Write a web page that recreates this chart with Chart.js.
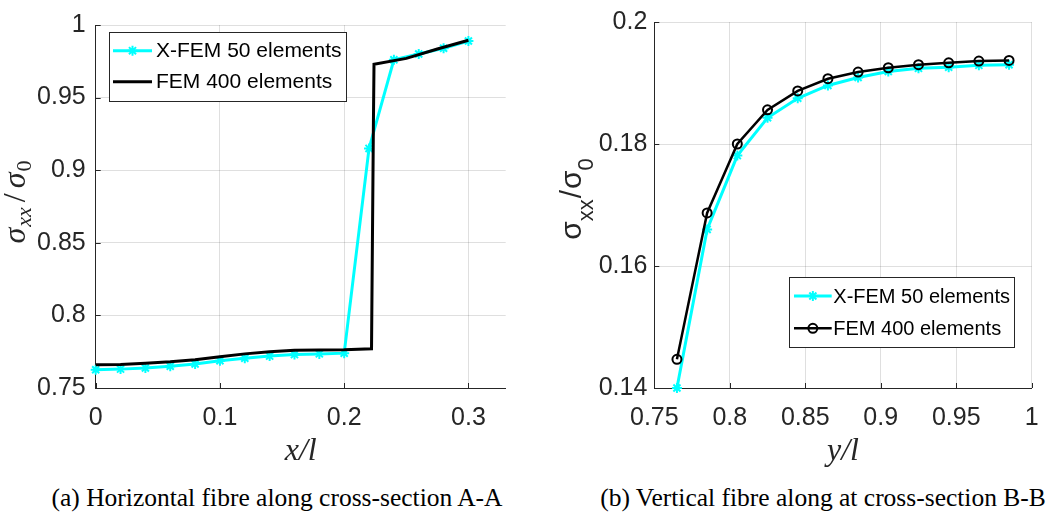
<!DOCTYPE html>
<html><head><meta charset="utf-8">
<script src="https://cdn.jsdelivr.net/npm/chart.js@4.4.0/dist/chart.umd.min.js"></script>
<style>
html,body{margin:0;padding:0;background:#fff;width:1062px;height:516px;overflow:hidden;}
canvas{position:absolute;top:0;}
#ca{left:0;}
#cb{left:531px;}
.cap{position:absolute;top:484px;line-height:28px;font-family:'Liberation Serif','Times New Roman',serif;font-size:25.5px;color:#000;white-space:nowrap;transform:translateX(-50%);}
</style></head><body>
<canvas id="ca" width="531" height="480"></canvas>
<canvas id="cb" width="531" height="480"></canvas>
<div class="cap" style="left:277px">(a) Horizontal fibre along cross-section A-A</div>
<div class="cap" style="left:823px">(b) Vertical fibre along at cross-section B-B</div>
<script>
// ---------- DATA ----------
// (a) horizontal fibre, cross-section A-A
const xfemA_x = [0, 0.02, 0.04, 0.06, 0.08, 0.10, 0.12, 0.14, 0.16, 0.18, 0.20, 0.22, 0.24, 0.26, 0.28, 0.30];
const xfemA_y = [0.7626, 0.7630, 0.7638, 0.7650, 0.7665, 0.7688, 0.7705, 0.7720, 0.7730, 0.7735, 0.7740, 0.9150, 0.9760, 0.9800, 0.9840, 0.9890];
const femA_x = [0, 0.02, 0.04, 0.06, 0.08, 0.10, 0.12, 0.14, 0.16, 0.18, 0.20, 0.222, 0.2235, 0.224, 0.25, 0.275, 0.30];
const femA_y = [0.7660, 0.7662, 0.7670, 0.7680, 0.7695, 0.7715, 0.7735, 0.7750, 0.7760, 0.7762, 0.7763, 0.7770, 0.9300, 0.9730, 0.9770, 0.9835, 0.9895];
const xTicksA = [0, 0.1, 0.2, 0.3];
const yTicksA = [0.75, 0.8, 0.85, 0.9, 0.95, 1];
// (b) vertical fibre, cross-section B-B
const posB  = [0.765, 0.785, 0.805, 0.825, 0.845, 0.865, 0.885, 0.905, 0.925, 0.945, 0.965, 0.985];
const xfemB = [0.1400, 0.1660, 0.1781, 0.1843, 0.1875, 0.1896, 0.1909, 0.1919, 0.1924, 0.1926, 0.1929, 0.1930];
const femB  = [0.1447, 0.1687, 0.1800, 0.1856, 0.1887, 0.1907, 0.1918, 0.1925, 0.1930, 0.1933, 0.1936, 0.1937];
const xTicksB = [0.75, 0.8, 0.85, 0.9, 0.95, 1];
const yTicksB = [0.14, 0.16, 0.18, 0.2];
const labelXfem = 'X-FEM 50 elements';
const labelFem = 'FEM 400 elements';

// ---------- STYLE ----------
const CYAN = '#00FFFF', BLACK = '#000000', AX = '#262626';
const GRID = 'rgba(38,38,38,0.15)';
const H = 480;

function pts(xs, ys){ return xs.map((x,i)=>({x:x, y:ys[i]})); }
function fmt(v){ return String(+(+v).toFixed(3)); }

const custom = {
  id: 'custom',
  afterDraw(chart, args, o) {
    const ctx = chart.ctx, ca = chart.chartArea;
    const xs = chart.scales.x, ys = chart.scales.y;
    ctx.save();
    // inner tick marks
    ctx.strokeStyle = AX; ctx.lineWidth = 1;
    xs.ticks.forEach(t => {
      const p = Math.round(xs.getPixelForValue(t.value)) + 0.5;
      ctx.beginPath(); ctx.moveTo(p, ca.bottom); ctx.lineTo(p, ca.bottom - 5); ctx.stroke();
    });
    ys.ticks.forEach(t => {
      const p = Math.round(ys.getPixelForValue(t.value)) + 0.5;
      ctx.beginPath(); ctx.moveTo(ca.left, p); ctx.lineTo(ca.left + 5, p); ctx.stroke();
    });
    // legend
    const L = o.legend;
    ctx.fillStyle = '#fff';
    ctx.fillRect(L.x, L.y, L.w, L.h);
    ctx.strokeStyle = AX; ctx.lineWidth = 1;
    ctx.strokeRect(Math.round(L.x) + 0.5, Math.round(L.y) + 0.5, Math.round(L.w), Math.round(L.h));
    L.items.forEach((it, i) => {
      const ds = chart.data.datasets[it.ds];
      const y = L.rows[i];
      ctx.strokeStyle = ds.borderColor; ctx.lineWidth = ds.borderWidth;
      ctx.beginPath(); ctx.moveTo(L.s0, y); ctx.lineTo(L.s1, y); ctx.stroke();
      if (ds.pointRadius > 0) {
        ctx.strokeStyle = ds.pointBorderColor; ctx.fillStyle = ds.pointBackgroundColor;
        ctx.lineWidth = ds.pointBorderWidth;
        Chart.helpers.drawPoint(ctx, {pointStyle: ds.pointStyle, radius: ds.pointRadius, borderWidth: ds.pointBorderWidth, rotation: 0}, (L.s0 + L.s1) / 2, y);
      }
      ctx.fillStyle = '#000';
      ctx.font = L.font;
      ctx.textBaseline = 'middle'; ctx.textAlign = 'left';
      ctx.fillText(ds.label, L.tx, y + 1);
    });
    // y title with subscripts
    const T = o.ytitle;
    let total = 0;
    T.parts.forEach(p => { ctx.font = p.f; total += ctx.measureText(p.t).width + (p.g || 0); });
    ctx.translate(T.bx, T.cy);
    ctx.rotate(-Math.PI / 2);
    ctx.fillStyle = '#262626';
    ctx.textBaseline = 'alphabetic'; ctx.textAlign = 'left';
    let x = -total / 2;
    T.parts.forEach(p => {
      ctx.font = p.f;
      ctx.fillText(p.t, x, p.dy || 0);
      x += ctx.measureText(p.t).width + (p.g || 0);
    });
    ctx.restore();
  }
};

function makeChart(id, cfg) {
  return new Chart(document.getElementById(id), {
    type: 'line',
    data: { datasets: cfg.datasets },
    options: {
      responsive: false,
      animation: false,
      layout: { padding: { top: 16, right: cfg.padRight, left: 0, bottom: 0 } },
      plugins: { legend: { display: false }, tooltip: { enabled: false }, custom: cfg.custom },
      scales: {
        x: {
          type: 'linear', min: cfg.xmin, max: cfg.xmax,
          afterBuildTicks: s => { s.ticks = cfg.xTicks.map(v => ({ value: v })); },
          afterFit: s => { s.height = H - 388; },
          ticks: { callback: fmt, color: AX, font: { family: 'Liberation Sans', size: 25 }, padding: 15, maxRotation: 0, autoSkip: false },
          grid: { color: GRID, drawTicks: false, lineWidth: 1 },
          border: { display: true, color: AX, width: 1 },
          title: { display: true, text: cfg.xTitle, color: '#262626', font: { family: 'Liberation Serif', size: 32, style: 'italic' }, padding: { top: 0, bottom: 9 } }
        },
        y: {
          type: 'linear', min: cfg.ymin, max: cfg.ymax,
          afterBuildTicks: s => { s.ticks = cfg.yTicks.map(v => ({ value: v })); },
          afterFit: s => { s.width = cfg.plotLeft; },
          ticks: { callback: fmt, color: AX, font: { family: 'Liberation Sans', size: 25 }, padding: cfg.yPad, autoSkip: false },
          grid: { color: GRID, drawTicks: false, lineWidth: 1 },
          border: { display: true, color: AX, width: 1 }
        }
      }
    },
    plugins: [custom]
  });
}

makeChart('ca', {
  xmin: 0, xmax: 0.33, ymin: 0.75, ymax: 1, xTicks: xTicksA, yTicks: yTicksA,
  plotLeft: 95.7, padRight: 531 - 505.7, yPad: 10, xTitle: 'x/l',
  datasets: [
    { label: labelXfem, data: pts(xfemA_x, xfemA_y), borderColor: CYAN, borderWidth: 3, tension: 0, order: 2, clip: false,
      pointStyle: 'star', pointRadius: 5, pointBorderWidth: 2, pointBorderColor: CYAN, pointBackgroundColor: CYAN },
    { label: labelFem, data: pts(femA_x, femA_y), borderColor: BLACK, borderWidth: 3, tension: 0, order: 1, clip: false,
      pointRadius: 0, pointStyle: 'circle', pointBorderWidth: 0, pointBorderColor: BLACK, pointBackgroundColor: BLACK }
  ],
  custom: {
    legend: { x: 109, y: 32, w: 237, h: 69, rows: [50.7, 81.7], s0: 113, s1: 152, tx: 156, font: '21px "Liberation Sans"', items: [{ ds: 0 }, { ds: 1 }] },
    ytitle: { bx: 25, cy: 202, parts: [
      { t: 'σ', f: 'italic 32px "Liberation Serif"', g: 1 },
      { t: 'xx', f: 'italic 22px "Liberation Serif"', dy: 6, g: 5 },
      { t: '/', f: '32px "Liberation Serif"', g: 5 },
      { t: 'σ', f: 'italic 32px "Liberation Serif"', g: 1 },
      { t: '0', f: '22px "Liberation Serif"', dy: 6 }
    ] }
  }
});

makeChart('cb', {
  xmin: 0.75, xmax: 1, ymin: 0.14, ymax: 0.2, xTicks: xTicksB, yTicks: yTicksB,
  plotLeft: 654.3 - 531, padRight: 1062 - 1031.7, yPad: 7, xTitle: 'y/l',
  datasets: [
    { label: labelXfem, data: pts(posB, xfemB), borderColor: CYAN, borderWidth: 3, tension: 0, order: 2, clip: false,
      pointStyle: 'star', pointRadius: 5, pointBorderWidth: 2, pointBorderColor: CYAN, pointBackgroundColor: CYAN },
    { label: labelFem, data: pts(posB, femB), borderColor: BLACK, borderWidth: 2.5, tension: 0, order: 1, clip: false,
      pointStyle: 'circle', pointRadius: 4.5, pointBorderWidth: 2, pointBorderColor: BLACK, pointBackgroundColor: 'rgba(0,0,0,0)' }
  ],
  custom: {
    legend: { x: 258.3, y: 277.3, w: 224.7, h: 70, rows: [296, 328.3], s0: 263, s1: 300.7, tx: 302.3, font: '20px "Liberation Sans"', items: [{ ds: 0 }, { ds: 1 }] },
    ytitle: { bx: 581 - 531, cy: 199, parts: [
      { t: 'σ', f: '30px "Liberation Sans"', g: 0 },
      { t: 'xx', f: '22px "Liberation Sans"', dy: 12, g: 1 },
      { t: '/', f: '30px "Liberation Sans"', g: 1 },
      { t: 'σ', f: '30px "Liberation Sans"', g: 0 },
      { t: '0', f: '22px "Liberation Sans"', dy: 12 }
    ] }
  }
});
</script>
</body></html>
